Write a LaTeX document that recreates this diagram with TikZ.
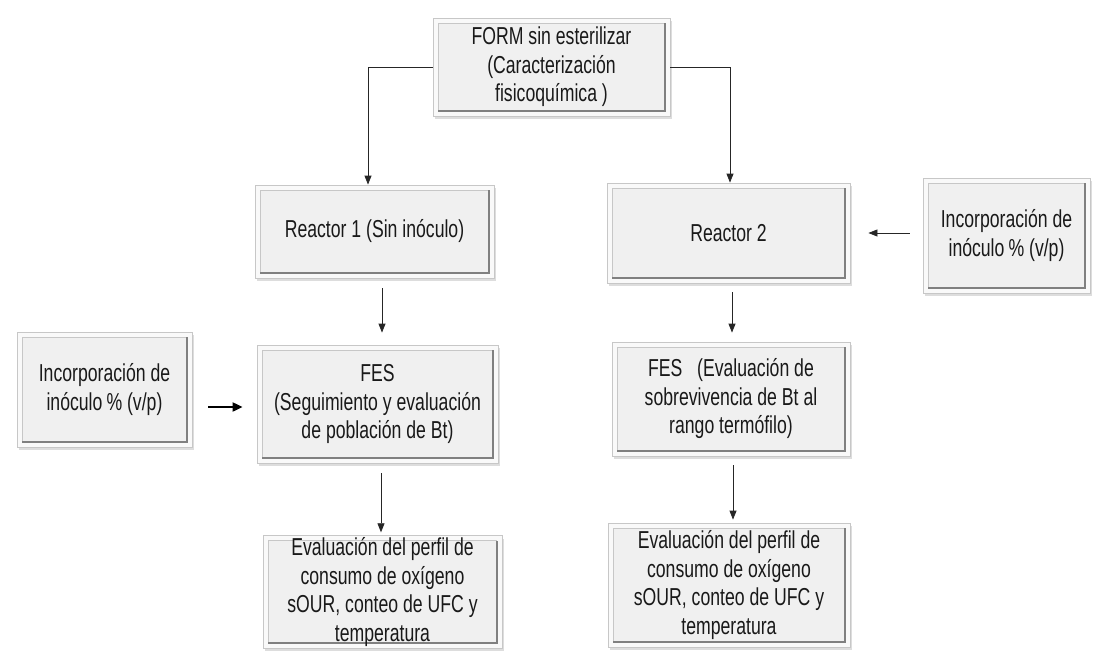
\documentclass[tikz,border=0pt]{standalone}
\usepackage{fontspec}
\setmainfont{Liberation Sans}[FakeStretch=0.72]
\usetikzlibrary{arrows.meta,shadows,calc}
\definecolor{boxfill}{HTML}{F0F0F0}
\definecolor{boxband}{HTML}{F9F9F9}
\newcommand{\boxfnt}{\fontsize{24.5}{28.5}\selectfont}
\begin{document}
\begin{tikzpicture}[x=1pt,y=-1pt,
  box/.style={draw=black!22, line width=0.8pt, fill=boxband, inner sep=2pt,
    align=center, font=\boxfnt, text=black!90,
    drop shadow={shadow xshift=2pt, shadow yshift=-3pt, opacity=0.22, fill=black!60},
    path picture={
      \fill[boxfill] ([shift={(5pt,5pt)}]path picture bounding box.south west) rectangle ([shift={(-5pt,-5pt)}]path picture bounding box.north east);
      \draw[black!22,line width=0.8pt] ([shift={(5pt,5pt)}]path picture bounding box.south west) |- ([shift={(-5pt,-5pt)}]path picture bounding box.north east);
      \draw[black!50,line width=2pt] ([shift={(5pt,5pt)}]path picture bounding box.south west) -| ([shift={(-5pt,-5pt)}]path picture bounding box.north east);
    }},
  arr/.style={draw=black!85, line width=0.8pt, -{Triangle[length=9pt,width=7pt]}},
  thickarr/.style={draw=black, line width=2pt, -{Triangle[length=10pt,width=9pt]}}]
\useasboundingbox (0,0) rectangle (1093,659);
\fill[white] (0,0) rectangle (1093,659);

\node[box, minimum width=237pt, minimum height=98pt] (top) at (551.5,67)
  {\fontsize{24.5}{24.5}\selectfont FORM sin esterilizar\\(Caracterización\\fisicoquímica )};
\node[box, minimum width=239pt, minimum height=93pt] (r1) at (374.5,231.5) {Reactor 1 (Sin inóculo)};
\node[box, minimum width=243pt, minimum height=100pt] (r2) at (728.5,233) {Reactor 2};
\node[box, minimum width=167pt, minimum height=115pt] (inc2) at (1006.5,235.5) {Incorporación de\\inóculo\,\% (v/p)};
\node[box, minimum width=175pt, minimum height=115pt] (inc1) at (104.5,389.5) {Incorporación de\\inóculo\,\% (v/p)};
\node[box, minimum width=241pt, minimum height=118pt] (fes1) at (377.5,404) {FES\\(Seguimiento y evaluación\\de población de Bt)};
\node[box, minimum width=238pt, minimum height=114pt] (fes2) at (731,399) {FES~~ (Evaluación de\\sobrevivencia de Bt al\\rango termófilo)};
\node[box, minimum width=239pt, minimum height=112pt] (ev1) at (382.5,592) {Evaluación del perfil de\\consumo de oxígeno\\sOUR, conteo de UFC y\\temperatura};
\node[box, minimum width=242pt, minimum height=124pt] (ev2) at (729,585) {Evaluación del perfil de\\consumo de oxígeno\\sOUR, conteo de UFC y\\temperatura};

\draw[arr] (top.west) -| ([xshift=-6.5pt]r1.north);
\draw[arr] (top.east) -| ([xshift=1.5pt]r2.north);
\draw[arr] ([xshift=7.5pt,yshift=-10pt]r1.south) -- ([xshift=7.5pt,yshift=12pt]r1.south |- fes1.north);
\draw[arr] ([xshift=3.5pt,yshift=-9pt]r2.south) -- ([xshift=3.5pt,yshift=9pt]r2.south |- fes2.north);
\draw[arr] ([xshift=3.5pt,yshift=-10pt]fes1.south) -- ([xshift=3.5pt,yshift=3pt]fes1.south |- ev1.north);
\draw[arr] ([xshift=2pt,yshift=-9pt]fes2.south) -- ([xshift=2pt,yshift=3pt]fes2.south |- ev2.north);
\draw[thickarr] ($(inc1.east)+(16,17.5)$) -- ($(fes1.west |- inc1.east)+(-14,17.5)$);
\draw[arr] ($(inc2.west)+(-13,-2.5)$) -- ($(r2.east |- inc2.west)+(18,-2.5)$);
\end{tikzpicture}
\end{document}
